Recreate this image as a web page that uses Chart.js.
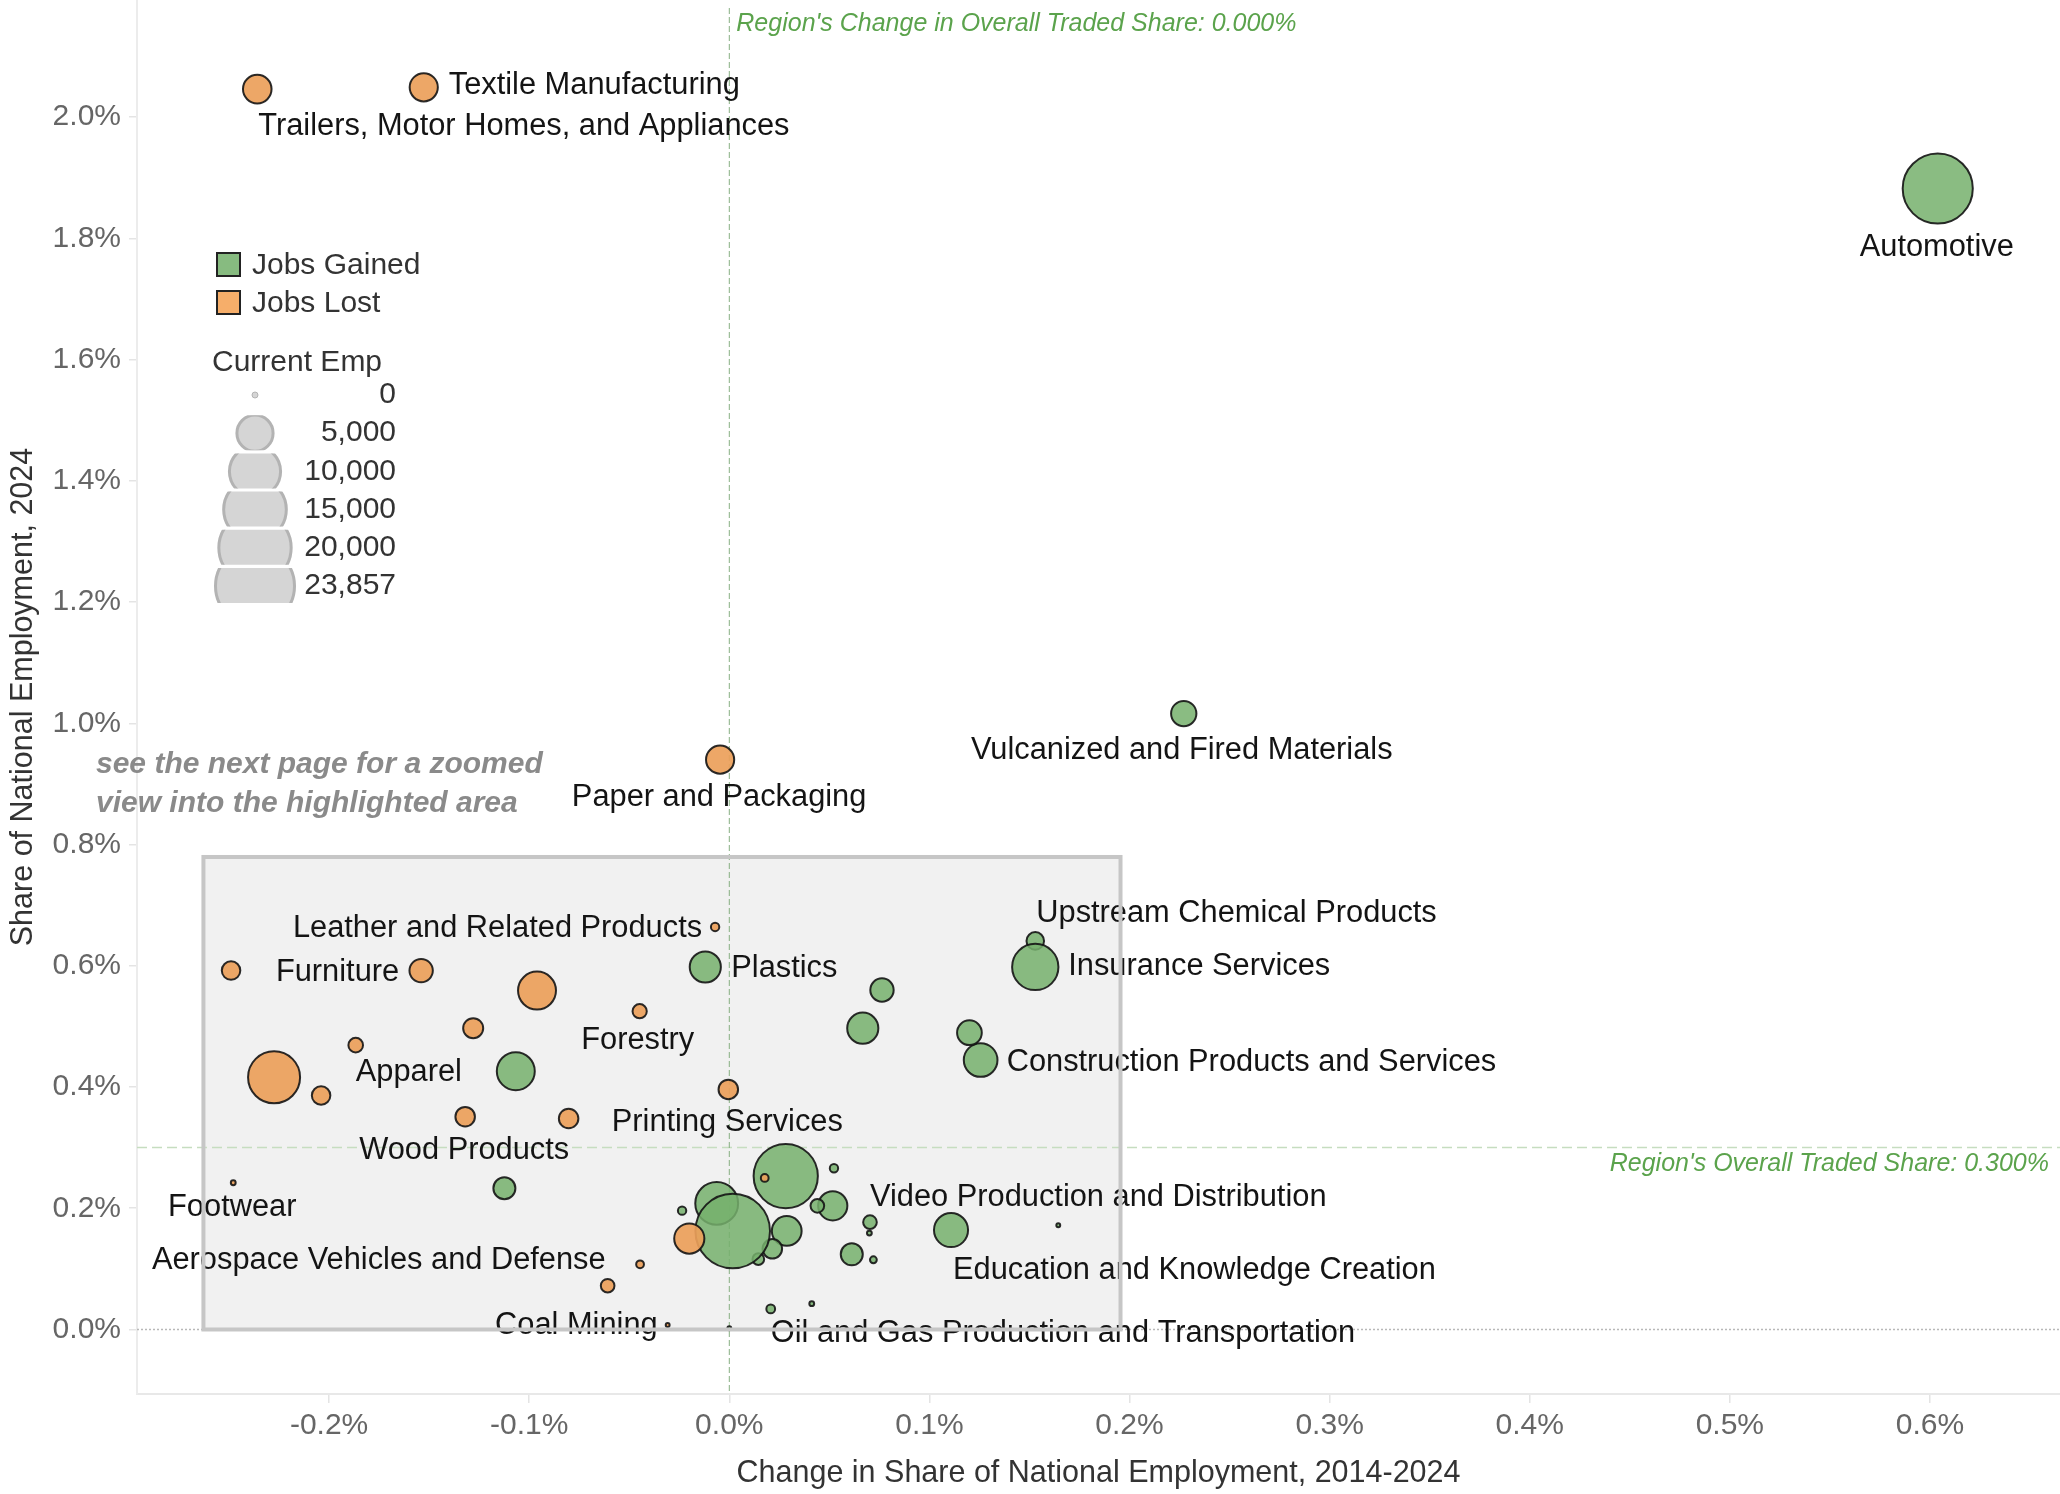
<!DOCTYPE html>
<html>
<head>
<meta charset="utf-8">
<script src="https://cdn.jsdelivr.net/npm/chart.js@4.4.1/dist/chart.umd.min.js"></script>
<style>
  html, body { margin: 0; padding: 0; background: #fff; }
  canvas { display: block; }
</style>
</head>
<body>
<canvas id="chart" width="2060" height="1494"></canvas>
<script>
// cluster data: change in share (pct points), share 2024 (%), current employment, jobs trend
const names = [
  'Trailers, Motor Homes, and Appliances', 'Textile Manufacturing', 'Paper and Packaging', '', 'Furniture',
  '', 'Forestry', '', 'Apparel', '', '', 'Wood Products', '', 'Printing Services',
  'Leather and Related Products', '', '', 'Aerospace Vehicles and Defense', 'Footwear', 'Coal Mining', '',
  'Automotive', 'Vulcanized and Fired Materials', 'Upstream Chemical Products', 'Insurance Services',
  'Construction Products and Services', '', '', '', 'Plastics', '', '', '', '', '', '', '', '', '',
  'Video Production and Distribution', '', '', 'Education and Knowledge Creation', '',
  'Oil and Gas Production and Transportation', '', '', '', '', '', ''
];
const shareChange = [
  -0.2359, -0.1527, -0.0046, -0.2490, -0.1540,
  -0.0961, -0.0448, -0.1280, -0.1867, -0.2275, -0.2040, -0.1320, -0.0803, -0.0005,
  -0.0071, -0.0200, -0.0446, -0.0608, -0.2479, -0.0308, 0.0177,
  0.6039, 0.2271, 0.1529, 0.1529,
  0.1256, 0.1200, 0.0763, 0.0667, -0.0120, -0.1067, -0.1124, -0.0063, 0.0282, 0.0523, -0.0236, 0.0517, 0.0440, 0.0287,
  0.0703, 0.0215, 0.0145, 0.1108, 0.0612,
  0.0207, 0.0700, 0.0720, 0.1644, 0.0412, 0.0000, 0.0017
];
const share2024 = [
  2.046, 2.049, 0.940, 0.592, 0.592,
  0.559, 0.525, 0.497, 0.469, 0.416, 0.386, 0.351, 0.348, 0.396,
  0.664, 0.150, 0.1075, 0.0722, 0.242, 0.0074, 0.250,
  1.882, 1.016, 0.641, 0.598,
  0.4445, 0.4896, 0.560, 0.497, 0.598, 0.426, 0.233, 0.208, 0.253, 0.266, 0.196, 0.204, 0.204, 0.1625,
  0.177, 0.133, 0.116, 0.164, 0.124,
  0.034, 0.159, 0.115, 0.172, 0.0426, 0.002, 0.1625
];
const currentEmp = [
  3500, 3400, 3400, 1470, 2340,
  6180, 870, 1720, 915, 11600, 1470, 1630, 1630, 1630,
  300, 3900, 260, 800, 100, 65, 260,
  21080, 2750, 1320, 9200,
  4870, 2620, 2340, 4160, 4160, 6180, 2080, 7870, 17700, 300, 300, 3660, 800, 3800,
  800, 1630, 585, 4980, 2080,
  330, 100, 200, 65, 100, 65, 23857
];
const jobTrend = [
  'Lost', 'Lost', 'Lost', 'Lost', 'Lost',
  'Lost', 'Lost', 'Lost', 'Lost', 'Lost', 'Lost', 'Lost', 'Lost', 'Lost',
  'Lost', 'Lost', 'Lost', 'Lost', 'Lost', 'Lost', 'Lost',
  'Gained', 'Gained', 'Gained', 'Gained',
  'Gained', 'Gained', 'Gained', 'Gained', 'Gained', 'Gained', 'Gained', 'Gained', 'Gained', 'Gained', 'Gained', 'Gained', 'Gained', 'Gained',
  'Gained', 'Gained', 'Gained', 'Gained', 'Gained',
  'Gained', 'Gained', 'Gained', 'Gained', 'Gained', 'Gained', 'Gained'
];
const xTicks = [-0.2, -0.1, 0, 0.1, 0.2, 0.3, 0.4, 0.5, 0.6];
const yTicks = [0, 0.2, 0.4, 0.6, 0.8, 1.0, 1.2, 1.4, 1.6, 1.8, 2.0];
const sizeLegendValues = [0, 5000, 10000, 15000, 20000, 23857];
const regionShare = 0.3;
const regionChange = 0.0;
const zoomArea = [-0.2628, 0.1955, 0, 0.7794]; // x0, x1, y0, y1

// label offsets from bubble centre: [dx, dy, align]
const labelPlace = {
  'Textile Manufacturing': [25, -4, 'left'],
  'Trailers, Motor Homes, and Appliances': [1, 35, 'left'],
  'Automotive': [-1, 57, 'center'],
  'Vulcanized and Fired Materials': [-2, 35, 'center'],
  'Paper and Packaging': [-1, 36, 'center'],
  'Upstream Chemical Products': [1, -29, 'left'],
  'Insurance Services': [33, -2, 'left'],
  'Construction Products and Services': [26, 0, 'left'],
  'Plastics': [26, 0, 'left'],
  'Leather and Related Products': [-13, 0, 'right'],
  'Furniture': [-22, 0, 'right'],
  'Forestry': [-2, 27, 'center'],
  'Printing Services': [-1, 31, 'center'],
  'Wood Products': [-1, 32, 'center'],
  'Footwear': [-1, 23, 'center'],
  'Apparel': [0, 25, 'left'],
  'Oil and Gas Production and Transportation': [0, 23, 'left'],
  'Video Production and Distribution': [0, -27, 'left'],
  'Education and Knowledge Creation': [2, 38, 'left'],
  'Aerospace Vehicles and Defense': [-2, -27, 'right'],
  'Coal Mining': [-10, -2, 'right']
};

const GREEN = 'rgba(118, 176, 108, 0.85)';
const ORANGE = 'rgba(236, 160, 90, 0.92)';
const FONT = "'Liberation Sans', Arial, sans-serif";
const maxEmp = Math.max(...currentEmp);
const bubbleR = emp => Math.max(1.2, 37.3 * Math.sqrt(emp / maxEmp));

function points(trend) {
  const out = [];
  names.forEach((n, i) => {
    if (jobTrend[i] !== trend) return;
    out.push({ x: shareChange[i], y: share2024[i], r: bubbleR(currentEmp[i]), name: n });
  });
  return out;
}

const overlay = {
  id: 'overlay',
  beforeDatasetsDraw(chart) {
    const { ctx, chartArea: a, scales: { x, y } } = chart;
    ctx.save();
    // highlighted zoom area
    const rx0 = x.getPixelForValue(zoomArea[0]), rx1 = x.getPixelForValue(zoomArea[1]);
    const ry0 = y.getPixelForValue(zoomArea[3]), ry1 = y.getPixelForValue(zoomArea[2]);
    ctx.fillStyle = '#f1f1f1';
    ctx.fillRect(rx0, ry0, rx1 - rx0, ry1 - ry0);

    // zero line
    const y0 = y.getPixelForValue(0);
    ctx.strokeStyle = '#b8b8b8';
    ctx.lineWidth = 1.5;
    ctx.setLineDash([2, 2]);
    ctx.beginPath(); ctx.moveTo(a.left, y0); ctx.lineTo(a.right, y0); ctx.stroke();

    // region reference lines
    const ys = y.getPixelForValue(regionShare);
    ctx.strokeStyle = '#c6ddc0';
    ctx.lineWidth = 1.5;
    ctx.setLineDash([10, 5]);
    ctx.beginPath(); ctx.moveTo(a.left, ys); ctx.lineTo(a.right, ys); ctx.stroke();

    const xc = x.getPixelForValue(regionChange);
    ctx.strokeStyle = '#87b082';
    ctx.lineWidth = 1;
    ctx.setLineDash([6, 3]);
    ctx.beginPath(); ctx.moveTo(xc, 8); ctx.lineTo(xc, a.bottom); ctx.stroke();
    ctx.setLineDash([]);

    ctx.fillStyle = '#5ba34c';
    ctx.font = 'italic 25px ' + FONT;
    ctx.textBaseline = 'middle';
    ctx.textAlign = 'left';
    ctx.fillText("Region's Change in Overall Traded Share: " + regionChange.toFixed(3) + '%', xc + 7, 24);
    ctx.textAlign = 'right';
    ctx.fillText("Region's Overall Traded Share: " + regionShare.toFixed(3) + '%', a.right - 11, ys + 16);

    // note
    ctx.fillStyle = '#8a8a8a';
    ctx.font = 'italic bold 30px ' + FONT;
    ctx.textAlign = 'left';
    ctx.fillText('see the next page for a zoomed', 96, 765);
    ctx.fillText('view into the highlighted area', 96, 804);

    // colour legend
    ctx.lineWidth = 2;
    ctx.strokeStyle = '#222';
    [['Jobs Gained', '#87bb80', 265], ['Jobs Lost', '#f6ae6a', 303]].forEach(([t, c, cy]) => {
      ctx.fillStyle = c;
      ctx.fillRect(217, cy - 12, 23, 23);
      ctx.strokeRect(217, cy - 12, 23, 23);
      ctx.fillStyle = '#333';
      ctx.font = '30px ' + FONT;
      ctx.textAlign = 'left';
      ctx.fillText(t, 252, cy + 1);
    });
    ctx.fillText('Current Emp', 212, 363);

    // size legend
    sizeLegendValues.forEach((v, i) => {
      const cy = 394 + i * 38.2;
      const r = v === 0 ? 3 : 39.5 * Math.sqrt(v / maxEmp);
      ctx.save();
      ctx.beginPath();
      ctx.rect(200, cy - 17, 120, 35);
      ctx.clip();
      ctx.beginPath();
      ctx.arc(255, cy + 1, r, 0, Math.PI * 2);
      ctx.fillStyle = '#d5d5d5';
      ctx.fill();
      ctx.strokeStyle = '#b3b3b3';
      ctx.lineWidth = v === 0 ? 1 : 3;
      ctx.stroke();
      ctx.restore();
      ctx.fillStyle = '#333';
      ctx.font = '30px ' + FONT;
      ctx.textAlign = 'right';
      ctx.fillText(v.toLocaleString('en-US'), 396, cy + 1);
    });
    ctx.restore();
  },
  afterDatasetsDraw(chart) {
    const { ctx, scales: { x, y } } = chart;
    ctx.save();
    ctx.fillStyle = '#141414';
    ctx.font = '30.8px ' + FONT;
    ctx.textBaseline = 'middle';
    chart.data.datasets.forEach((ds, di) => {
      const meta = chart.getDatasetMeta(di);
      ds.data.forEach((p, i) => {
        const place = labelPlace[p.name];
        if (!place) return;
        const el = meta.data[i];
        ctx.textAlign = place[2];
        ctx.fillText(p.name, el.x + place[0], el.y + place[1] + 2);
      });
    });
    // zoom area frame on top
    const rx0 = x.getPixelForValue(zoomArea[0]), rx1 = x.getPixelForValue(zoomArea[1]);
    const ry0 = y.getPixelForValue(zoomArea[3]), ry1 = y.getPixelForValue(zoomArea[2]);
    ctx.strokeStyle = '#c6c6c6';
    ctx.lineWidth = 4;
    ctx.strokeRect(rx0, ry0, rx1 - rx0, ry1 - ry0);
    ctx.restore();
  }
};

new Chart(document.getElementById('chart'), {
  type: 'bubble',
  data: {
    datasets: [
      { label: 'Jobs Lost', data: points('Lost'), backgroundColor: ORANGE, borderColor: 'rgba(20,20,20,0.9)', borderWidth: 2 },
      { label: 'Jobs Gained', data: points('Gained'), backgroundColor: GREEN, borderColor: 'rgba(20,20,20,0.9)', borderWidth: 2 }
    ]
  },
  options: {
    responsive: false,
    devicePixelRatio: 1,
    animation: false,
    layout: { padding: 0, autoPadding: false },
    plugins: { legend: { display: false }, tooltip: { enabled: false } },
    scales: {
      x: {
        type: 'linear',
        min: -0.2960,
        max: 0.6650,
        afterBuildTicks: s => { s.ticks = xTicks.map(v => ({ value: v })); },
        afterFit: s => { s.height = 100; s.paddingLeft = 0; s.paddingRight = 0; },
        ticks: {
          callback: v => v.toFixed(1) + '%',
          color: '#666',
          font: { family: FONT, size: 30 },
          padding: 5,
          maxRotation: 0
        },
        grid: { drawOnChartArea: false, tickLength: 9, tickColor: '#e4e4e4', lineWidth: 1.5 },
        border: { color: '#e8e8e8', width: 2 },
        title: {
          display: true,
          text: 'Change in Share of National Employment, 2014-2024',
          color: '#333',
          font: { family: FONT, size: 30.5 },
          padding: { top: 0, bottom: 2 }
        }
      },
      y: {
        type: 'linear',
        min: -0.1064,
        max: 2.1930,
        afterBuildTicks: s => { s.ticks = yTicks.map(v => ({ value: v })); },
        afterFit: s => { s.width = 137; s.paddingTop = 0; s.paddingBottom = 0; },
        ticks: {
          callback: v => v.toFixed(1) + '%',
          color: '#666',
          font: { family: FONT, size: 30 },
          padding: 8
        },
        grid: { drawOnChartArea: false, tickLength: 8, tickColor: '#e4e4e4', lineWidth: 1.5 },
        border: { color: '#ececec', width: 2 },
        title: {
          display: true,
          text: 'Share of National Employment, 2024',
          color: '#333',
          font: { family: FONT, size: 30.5 },
          padding: { top: 5, bottom: 0 }
        }
      }
    }
  },
  plugins: [overlay]
});
</script>
</body>
</html>
